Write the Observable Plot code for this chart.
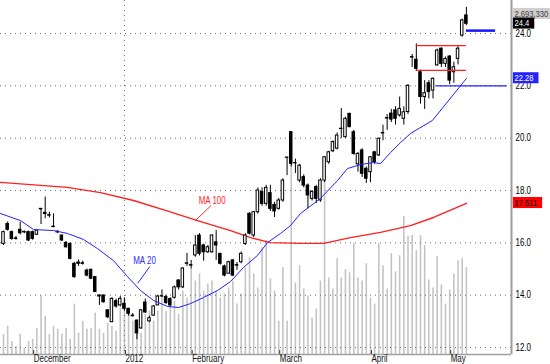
<!DOCTYPE html>
<html><head><meta charset="utf-8">
<script src="https://cdn.jsdelivr.net/npm/d3@7"></script>
<script src="https://cdn.jsdelivr.net/npm/@observablehq/plot@0.6"></script>
<style>
body{margin:0;background:#fff;}
#chart{position:relative;width:550px;height:364px;overflow:hidden;background:#fff;}
#chart svg{position:absolute;left:0;top:0;background:transparent;}
</style></head><body><div id="chart"></div>
<script>
// ---- data ----
const open = [15.96,16.72,16.41,16.17,16.50,16.42,16.41,16.41,16.31,17.28, 17.15,17.06,16.62,16.42,16.28,16.00,15.96,15.20,15.25,15.22, 14.94,14.97,14.69,13.99,13.99,13.42,12.97,13.77,13.61,13.67, 13.48,13.22,13.03,12.73,13.72,13.00,13.22,13.61,13.96,13.93, 13.85,13.90,14.56,14.30,15.20,15.15,15.52,16.28,15.90,15.64, 15.64,16.02,15.58,15.10,14.82,15.33,15.15,15.26,15.96,17.11, 16.28,17.17,17.94,17.49,17.90,17.45,17.30,17.62,19.25,20.23, 19.05,18.38,18.51,18.19,17.68,18.13,17.62,18.38,19.08,19.50, 19.60,20.35,20.04,20.93,20.23,19.00,19.53,18.83,18.70,19.46, 19.34,20.18,20.75,20.94,21.06,20.87,20.74,21.00,23.08,23.00, 22.52,21.57,22.10,21.82,22.78,23.42,22.84,23.12,22.52,23.03, 23.92,24.69];
const high = [16.45,16.80,16.45,16.25,16.79,16.45,16.45,16.45,16.50,17.30, 17.75,17.17,17.11,16.47,16.30,16.05,16.00,15.25,15.35,15.30, 15.00,15.00,14.70,14.00,14.00,13.45,13.90,13.85,13.95,13.90, 13.50,13.30,13.05,13.45,13.85,13.20,13.60,14.00,14.20,14.00, 13.90,14.35,14.60,15.05,15.60,15.33,16.28,16.35,15.95,15.90, 16.30,16.47,15.60,15.15,15.30,15.35,15.25,15.65,16.35,17.15, 17.20,18.10,18.10,18.20,18.20,17.55,17.70,18.45,19.27,20.25, 19.20,19.00,18.60,18.25,18.00,18.20,18.45,19.30,19.50,19.90, 20.20,21.13,20.80,20.95,20.30,19.45,19.60,18.90,19.30,19.50, 20.00,20.50,20.90,21.10,21.20,21.57,21.20,22.05,23.20,23.60, 22.60,22.20,22.20,22.30,23.40,23.45,23.10,23.15,22.90,23.50, 24.55,25.00];
const low = [15.90,16.45,16.10,16.10,16.30,16.35,16.05,16.10,16.28,16.70, 16.92,16.95,16.58,16.35,16.05,15.80,15.35,14.65,15.10,15.15, 14.70,14.60,14.10,13.61,13.70,13.10,12.95,13.50,13.55,13.40, 13.20,13.16,12.30,12.70,13.30,12.95,13.20,13.60,13.90,13.65, 13.55,13.85,14.20,14.25,15.10,15.00,15.45,15.50,15.30,15.60, 15.60,15.33,15.15,14.70,14.80,14.72,14.95,15.20,15.90,16.30, 16.20,17.10,17.40,17.40,17.20,16.97,17.25,17.55,18.57,18.90, 18.65,18.30,18.10,17.30,17.60,17.50,17.55,18.30,19.00,19.45, 19.55,19.99,20.00,20.40,19.35,18.70,18.50,18.27,18.30,19.00, 19.30,19.90,20.30,20.60,20.50,20.80,20.50,20.90,22.70,22.55, 21.30,21.10,21.50,21.50,22.75,22.70,22.70,22.05,22.10,22.80, 23.86,24.30];
const close = [16.41,16.50,16.15,16.15,16.37,16.40,16.09,16.15,16.47,17.30, 17.10,17.04,16.60,16.40,16.09,15.83,15.39,14.69,15.20,15.20, 14.75,14.63,14.12,13.95,13.73,13.16,13.86,13.57,13.86,13.48, 13.29,13.20,12.54,13.42,13.34,13.12,13.57,13.95,13.95,13.70, 13.61,14.30,14.30,15.02,15.22,15.13,15.90,15.58,15.64,15.83, 16.28,15.90,15.20,14.75,15.26,14.75,15.13,15.58,16.28,16.35, 17.17,18.00,17.49,18.10,17.30,17.20,17.62,18.38,19.26,19.02, 19.04,18.95,18.19,17.81,17.94,17.68,18.38,19.27,19.46,19.85, 20.10,20.36,20.74,20.42,19.40,19.40,18.64,18.45,19.27,19.08, 19.98,20.20,20.77,20.71,20.74,21.12,20.99,22.00,23.10,22.65, 21.57,21.72,21.76,22.27,23.35,22.84,23.03,22.20,22.71,23.42, 24.50,24.37];
const volume = [626000,877000,407000,251000,626000,188000,407000,470000,814000,1816000, 1190000,626000,877000,783000,626000,814000,470000,1566000,658000,1033000, 783000,814000,1284000,783000,658000,971000,877000,720000,1441000,1722000, 1347000,1033000,814000,658000,1253000,1347000,1033000,1347000,1754000,1347000, 1754000,1660000,1253000,1973000,1754000,2662000,2286000,2505000,1973000,2192000, 2286000,1973000,1754000,1879000,2067000,2286000,1566000,1879000,2693000,3007000, 2505000,2067000,3320000,3539000,2349000,1973000,1033000,2693000,1033000,5950000, 2224000,2756000,2036000,1816000,1128000,1409000,2286000,6139000,2380000,2036000, 2975000,2380000,2631000,2537000,3445000,2380000,2286000,2819000,1754000,1566000, 3445000,2756000,2036000,3132000,2568000,3069000,4291000,3664000,3696000,3226000, 3696000,3382000,2318000,2067000,3038000,2161000,1566000,2004000,2505000,2913000, 2975000,2693330];

// moving averages at sample bars (bar index, value)
const ma20Idx = [-0.72,4.08,7.19,11.99,15.35,19.18,22.54,26.38,29.74,32.85,35.97,39.33,41.97,44.84,47.96,51.32,54.44,57.55,60.91,63.31,66.43,68.82,71.22,76.02,80.10,82.49,85.61,88.73,90.41,92.81,95.20,97.60,102.88,111.0];
const ma20Val = [17.12,16.85,16.51,16.47,16.36,16.13,15.78,15.32,14.71,14.18,13.80,13.57,13.53,13.68,13.91,14.18,14.52,15.06,15.52,16.01,16.36,16.66,17.12,17.70,18.38,18.84,18.99,19.07,19.03,19.45,19.83,20.18,20.68,22.28];
const ma100Idx = [-0.72,15.35,23.26,31.18,38.85,46.52,54.44,59.23,64.03,71.22,76.74,83.21,90.41,97.60,103.12,111.0];
const ma100Val = [18.31,18.12,17.92,17.62,17.24,16.85,16.47,16.20,16.01,15.98,15.98,16.20,16.40,16.66,16.97,17.511];

// axis labels
const monthLabels = ["December","2012","February","March","April","May"];
const monthIdx = [7,29,45,66,88,107];
const yTicks = [12,14,16,18,20,22,24];
const yearIdx = 29;

// annotations
const maLabels = ["MA 100","MA 20"];
const maLabelIdx = [46.8,31.1];
const maLabelVal = [17.60,15.31];
const leaderIdx1 = [49.8,35.1], leaderVal1 = [17.43,15.10];
const leaderIdx2 = [46.0,32.2], leaderVal2 = [16.85,14.46];
const boxLevels = [23.54,22.59];         // red range lines
const boxIdx = [99,111];
const supportLevel = 22.0, supportIdx = [103.8,120.8];
const targetLevel = 24.11, targetIdx = [111,118];

// ---- build ----
const N = open.length;
const bars = d3.range(N).map(i => ({i, o:open[i], h:high[i], l:low[i], c:close[i], v:volume[i]}));
const ma20 = ma20Idx.map((x,k)=>({x, y:ma20Val[k]}));
const ma100 = ma100Idx.map((x,k)=>({x, y:ma100Val[k]}));
const xDomain = [-0.72, 121.82];
const yDomain = [11.734, 25.261];
const volMax = 11000000;
const FONT = "'Liberation Sans',Arial,sans-serif";
const base = {width:550, height:364, marginLeft:0, marginRight:39, marginTop:0, marginBottom:10,
  style:{fontFamily:FONT, fontSize:"10px", background:"transparent", overflow:"visible"}};

const volPlot = Plot.plot({...base,
  x:{domain:xDomain, axis:null},
  y:{domain:[0, volMax], axis:null},
  marks:[ Plot.ruleX(bars, {x:"i", y1:0, y2:"v", stroke:"#c4c4c4", strokeWidth:1.6}) ]
});

const tags = [
  {y: close[N-1], label: d3.format(".1f")(close[N-1]), bg:"#000000", fg:"#ffffff"},
  {y: ma20Val[ma20Val.length-1], label: d3.format(".2f")(ma20Val[ma20Val.length-1]), bg:"#2323ff", fg:"#ffffff"},
  {y: ma100Val[ma100Val.length-1], label: String(ma100Val[ma100Val.length-1]), bg:"#ff0000", fg:"#000000"}
];
const maLab = maLabels.map((t,k)=>({t, x:maLabelIdx[k], y:maLabelVal[k], color: k===0?"#ff2a2a":"#2a2aff"}));
const leaders = maLabels.map((t,k)=>({x1:leaderIdx1[k], y1:leaderVal1[k], x2:leaderIdx2[k], y2:leaderVal2[k], color: k===0?"#ff2a2a":"#2a2aff"}));

const pricePlot = Plot.plot({...base,
  x:{domain:xDomain, axis:null},
  y:{domain:yDomain, axis:null},
  marks:[
    Plot.ruleY(yTicks, {stroke:"#6e6e6e", strokeDasharray:"1,4"}),
    Plot.ruleX([yearIdx], {stroke:"#6e6e6e", strokeDasharray:"1,4"}),
    Plot.ruleX([xDomain[1]], {stroke:"#9c9c9c", strokeWidth:2}),
    Plot.ruleY([yDomain[0]], {stroke:"#a0a0a0", strokeWidth:1.5}),
    Plot.line(ma100, {x:"x", y:"y", stroke:"#ff2020", strokeWidth:1.4}),
    Plot.ruleX(bars, {x:"i", y1:"l", y2:"h", stroke:"#000", strokeWidth:1}),
    Plot.rect(bars, {x1:d=>d.i-0.3, x2:d=>d.i+0.3, y1:"o", y2:"c",
      fill:d=>d.c>=d.o?"#ffffff":"#000000", stroke:"#000", strokeWidth:1}),
    Plot.line(ma20, {x:"x", y:"y", stroke:"#2020ff", strokeWidth:1}),
    Plot.ruleY(boxLevels, {x1:boxIdx[0], x2:boxIdx[1], stroke:"#ff2020", strokeWidth:1.2}),
    Plot.ruleY([supportLevel], {x1:supportIdx[0], x2:supportIdx[1], stroke:"#2020ff", strokeWidth:1.2}),
    Plot.ruleY([targetLevel], {x1:targetIdx[0], x2:targetIdx[1], stroke:"#1515ff", strokeWidth:2.5}),
    Plot.link(leaders, {x1:"x1", y1:"y1", x2:"x2", y2:"y2", stroke:"color", strokeWidth:1}),
    Plot.text(maLab, {x:"x", y:"y", text:"t", fill:"color", textAnchor:"start", fontSize:10}),
    Plot.axisY({anchor:"right", ticks:yTicks, tickSize:0, tickPadding:4, tickFormat:d3.format(".1f"), fill:"#000", fontSize:10}),
    Plot.axisX(monthIdx, {tickSize:4, tickPadding:0, dy:-4, dx:1, textAnchor:"start", stroke:"#333",
      tickFormat:d=>monthLabels[monthIdx.indexOf(d)], fill:"#111", fontSize:10}),
    Plot.text([volume[N-1]], {frameAnchor:"top-right", text:d=>d3.format(",")(d), dx:3, dy:9.5,
      textAnchor:"start", fill:"#3c3c3c", fontSize:9.5, ariaDescription:"voltag"}),
    Plot.text(tags, {x:()=>xDomain[1], y:"y", text:"label", fill:"fg", dx:3, dy:-0.5, textAnchor:"start", fontSize:9.5, ariaDescription:"tags"})
  ]
});

const root = document.getElementById("chart");
root.appendChild(volPlot);
root.appendChild(pricePlot);

// condense the labels horizontally (the original uses a narrow face)
pricePlot.querySelectorAll("text").forEach(el => {
  const t = el.getAttribute("transform") || "";
  el.setAttribute("transform", `${t} scale(0.8,1)`);
});

function addBoxes(sel, bgs, padL, padR){
  const texts = pricePlot.querySelectorAll(sel + " text");
  texts.forEach((el, k) => {
    const b = el.getBBox();
    const r = document.createElementNS("http://www.w3.org/2000/svg", "rect");
    r.setAttribute("transform", el.getAttribute("transform"));
    r.setAttribute("x", b.x - padL);
    r.setAttribute("y", b.y);
    r.setAttribute("width", b.width + padL + padR);
    r.setAttribute("height", b.height);
    r.setAttribute("fill", bgs[k]);
    el.parentNode.insertBefore(r, el);
  });
}
addBoxes('g[aria-description="voltag"]', ["#cfcfcf"], 2, 12);
addBoxes('g[aria-description="tags"]', tags.map(d=>d.bg), 2, 6);
</script></body></html>
